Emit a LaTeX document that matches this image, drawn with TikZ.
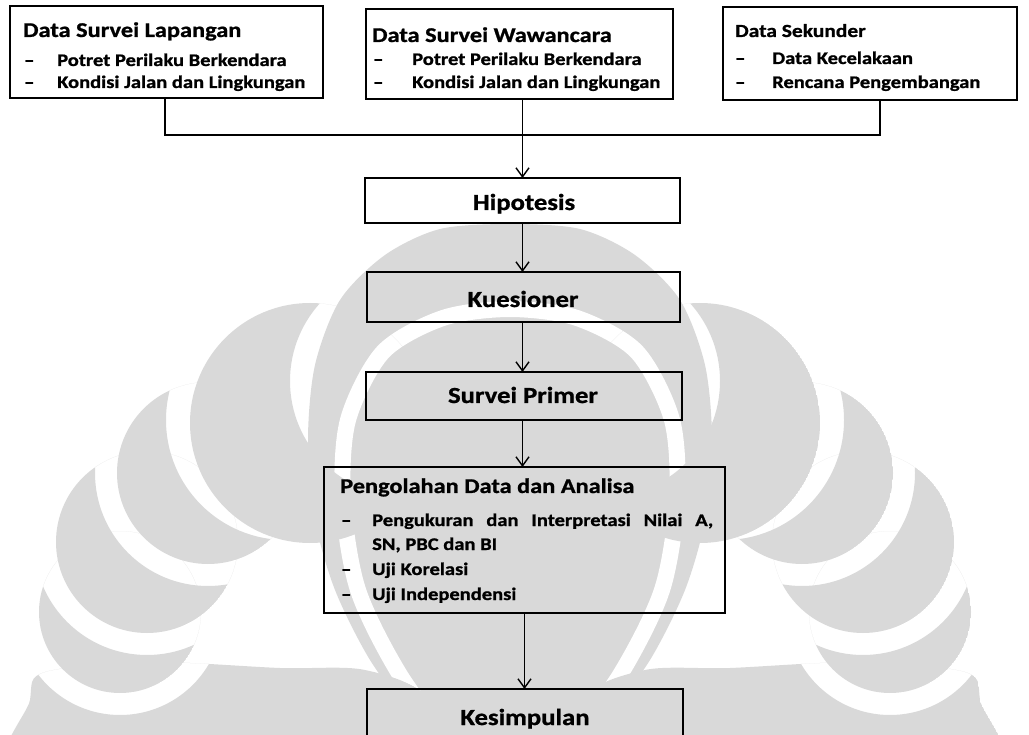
\documentclass[tikz,border=0pt]{standalone}
\usepackage{fontspec}
\newfontfamily\calfont{Carlito}[FakeStretch=1.16, BoldFeatures={FakeBold=1}]
\usetikzlibrary{arrows.meta}
\definecolor{wmgray}{RGB}{217,217,217}
\newcommand\wmlune[6]{%
  \begin{scope}
    \clip (#1,#2) circle[radius=#3pt];
    \fill[wmgray, even odd rule] (#1,#2) circle[radius=#3pt] (#4,#5) circle[radius=#6pt];
  \end{scope}}
\begin{document}
\begin{tikzpicture}[x=1pt,y=-1pt,
  box/.style={draw=black, line width=1.8pt, inner sep=0pt, outer sep=0pt, anchor=north west},
  conn/.style={draw=black, line width=1.4pt},
  arr/.style={conn, -{Straight Barb[length=9pt,width=13pt,line width=1.4pt]}},
  ttl/.style={anchor=base west, inner sep=0pt, font=\calfont\bfseries\fontsize{21}{21}\selectfont},
  itm/.style={anchor=base west, inner sep=0pt, font=\calfont\bfseries\fontsize{17.7}{18}\selectfont},
  big/.style={anchor=base, inner sep=0pt, font=\calfont\bfseries\fontsize{23}{23}\selectfont}]
\useasboundingbox (0,0) rectangle (1029,735);
\clip (0,0) rectangle (1029,735);
% ---- watermark (faint logo) ----
\begin{scope}
  \clip plot[smooth cycle] coordinates {(510,224) (580,229) (635,255) (680,300) (705,365) (712,440) (705,520) (685,590) (650,660) (605,720) (560,765) (510,785) (460,765) (415,720) (370,660) (335,590) (315,520) (308,440) (315,365) (340,300) (385,255) (440,229)};
  \fill[wmgray] (300,210) rectangle (720,800);
  \draw[white, line width=16pt] plot[smooth] coordinates {(462,760) (400,675) (358,590) (343,500) (348,420) (383,352) (443,318) (510,309) (577,318) (637,352) (672,420) (677,500) (662,590) (620,675) (558,760)};
\end{scope}
\wmlune{310}{423}{120}{406}{381}{116}
\wmlune{208}{473}{91}{286}{420}{120}
\wmlune{147}{542}{91}{208}{473}{113}
\wmlune{120}{612}{81}{147}{542}{113}
\begin{scope}
  \clip plot[smooth cycle] coordinates {(28,790) (30,700) (45,672) (150,662) (280,668) (365,670) (430,700) (450,790)};
  \fill[wmgray, even odd rule] plot[smooth cycle] coordinates {(28,790) (30,700) (45,672) (150,662) (280,668) (365,670) (430,700) (450,790)} (120,612) circle[radius=103pt];
\end{scope}
\wmlune{700}{423}{120}{604}{381}{116}
\wmlune{802}{473}{91}{724}{420}{120}
\wmlune{863}{542}{91}{802}{473}{113}
\wmlune{890}{612}{81}{863}{542}{113}
\begin{scope}
  \clip plot[smooth cycle] coordinates {(982,790) (980,700) (965,672) (860,662) (730,668) (645,670) (580,700) (560,790)};
  \fill[wmgray, even odd rule] plot[smooth cycle] coordinates {(982,790) (980,700) (965,672) (860,662) (730,668) (645,670) (580,700) (560,790)} (890,612) circle[radius=103pt];
\end{scope}
% ---- boxes ----
\node[box, minimum width=313pt, minimum height=92pt] (b1) at (10,6) {};
\node[box, minimum width=307pt, minimum height=90pt] (b2) at (366,9) {};
\node[box, minimum width=294pt, minimum height=93pt] (b3) at (723,7) {};
\node[box, minimum width=315pt, minimum height=45pt] (hip) at (365,178) {};
\node[box, minimum width=313pt, minimum height=50pt] (kue) at (367,272) {};
\node[box, minimum width=316pt, minimum height=48pt] (sp) at (366,372) {};
\node[box, minimum width=401pt, minimum height=146pt] (peng) at (324,467) {};
\node[box, minimum width=316pt, minimum height=80pt] (kes) at (367,689) {};
% box 1 text
\node[ttl] (t1) at (23,37) {Data Survei Lapangan};
\node[itm] (d11) at (24,66) {\textendash};
\node[itm] (i11) at (57,66) {Potret Perilaku Berkendara};
\node[itm] (d12) at (24,88) {\textendash};
\node[itm] (i12) at (57,88) {Kondisi Jalan dan Lingkungan};
% box 2 text
\node[ttl] (t2) at (372,42) {Data Survei Wawancara};
\node[itm] (d21) at (373,65) {\textendash};
\node[itm] (i21) at (412,65) {Potret Perilaku Berkendara};
\node[itm] (d22) at (373,88) {\textendash};
\node[itm] (i22) at (412,88) {Kondisi Jalan dan Lingkungan};
% box 3 text
\node[ttl, font=\calfont\bfseries\fontsize{18.5}{19}\selectfont] (t3) at (735,37) {Data Sekunder};
\node[itm] (d31) at (735,64) {\textendash};
\node[itm] (i31) at (772,64) {Data Kecelakaan};
\node[itm] (d32) at (735,88) {\textendash};
\node[itm] (i32) at (772,88) {Rencana Pengembangan};
% single boxes
\node[big] (thip) at (524,210) {Hipotesis};
\node[big] (tkue) at (523,307) {Kuesioner};
\node[big] (tsp) at (523,403) {Survei Primer};
\node[big] (tkes) at (525,725) {Kesimpulan};
% processing box
\node[ttl] (tp) at (340,493) {Pengolahan Data dan Analisa};
\node[itm] (dp1) at (341,526) {\textendash};
\node[itm] (ip1) at (372,526) {\makebox[341pt][s]{Pengukuran dan Interpretasi Nilai A,}};
\node[itm] (ip1b) at (372,550) {SN, PBC dan BI};
\node[itm] (dp2) at (341,575) {\textendash};
\node[itm] (ip2) at (372,575) {Uji Korelasi};
\node[itm] (dp3) at (341,600) {\textendash};
\node[itm] (ip3) at (372,600) {Uji Independensi};
% connectors
\coordinate (jl) at (165,135);
\coordinate (jr) at (880,135);
\draw[conn] (b1.south -| jl) -- (jl) -- (jr) -- (b3.south -| jr);
\draw[arr] (b2.south -| hip.north) -- (hip.north);
\draw[arr] (hip.south) -- (hip.south |- kue.north);
\draw[arr] (kue.south -| hip.south) -- (sp.north -| hip.south);
\draw[arr] (sp.south -| hip.south) -- (peng.north -| hip.south);
\draw[arr] (peng.south) -- (kes.north -| peng.south);
\end{tikzpicture}
\end{document}
